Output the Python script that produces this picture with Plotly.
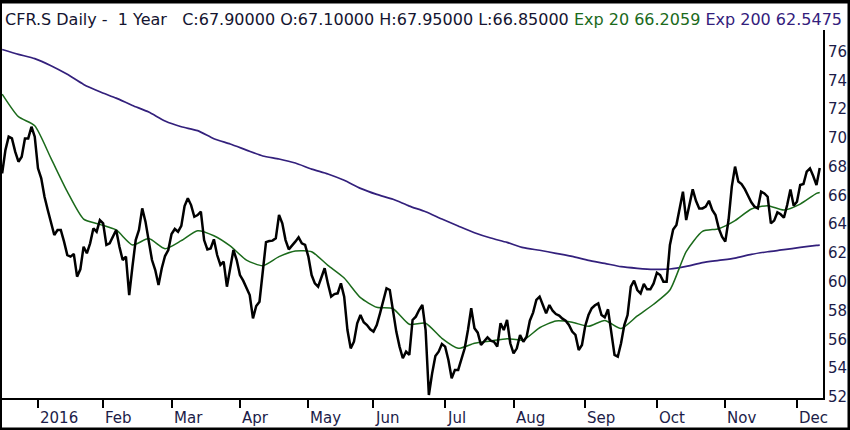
import pandas as pd
import plotly.graph_objects as go

# ---------------- data ----------------
holidays = ["2015-12-24", "2015-12-25", "2015-12-31", "2016-01-01",
            "2016-03-25", "2016-03-28", "2016-05-05", "2016-05-16", "2016-08-01"]
start_date = "2015-12-14"
end_date = "2016-12-12"

closes = [
    67.53, 69.15, 70.08, 69.96, 69.04, 68.34, 68.69, 69.96, 69.96, 70.77, 70.08,
    67.88, 67.19, 65.91, 64.99, 64.06, 63.25, 63.6, 63.6, 62.79, 61.86,
    61.75, 61.93, 60.36, 60.87, 62.44, 61.98, 62.67, 63.71, 63.48, 64.29,
    64.06, 62.56, 62.67, 63.09, 63.6, 62.44, 61.51, 61.75, 59.08, 61.05,
    62.9, 63.6, 65.1, 64.18, 62.9, 61.51, 60.82, 59.78, 60.94, 61.79,
    62.21, 63.32, 63.67, 63.48, 63.88, 65.26, 65.8, 65.33, 64.52, 64.64,
    64.87, 62.9, 62.25, 62.32, 62.95, 61.86, 61.17, 61.4, 59.66, 60.87,
    62.21, 61.51, 60.47, 60.08, 59.62, 59.08, 57.46, 58.32, 58.62, 60.94,
    62.76, 62.83, 62.86, 63.02, 64.64, 64.06, 62.9, 62.25, 62.56, 62.79,
    63.09, 62.67, 62.56, 61.75, 60.47, 59.89, 59.66, 60.24, 60.94, 59.89,
    58.97, 59.15, 59.2, 59.89, 58.97, 56.65, 55.38, 55.84, 57.12, 57.69,
    57.19, 57.0, 56.7, 56.54, 57.0, 57.81, 58.69, 59.55, 59.43, 58.04,
    56.54, 55.5, 54.69, 55.15, 54.92, 57.35, 57.58, 58.04, 58.39, 56.65,
    52.14, 53.64, 54.85, 55.15, 55.68, 55.5, 54.57, 53.3, 53.88, 53.88,
    54.62, 55.38, 56.65, 58.16, 56.77, 56.47, 55.61, 55.84, 56.14, 55.91,
    55.84, 55.5, 57.12, 56.65, 57.35, 55.73, 55.03, 55.38, 56.31, 55.84,
    56.19, 57.3, 57.86, 58.74, 58.97, 58.39, 57.81, 58.39, 57.99, 57.76,
    57.65, 57.44, 57.3, 57.0, 56.54, 56.31, 55.26, 55.61, 56.93, 57.69,
    58.16, 58.37, 58.5, 57.69, 57.53, 58.09, 56.54, 54.92, 54.8, 55.73,
    57.0, 57.69, 59.66, 60.08, 59.43, 59.2, 59.85, 59.48, 59.48, 59.89,
    60.63, 60.47, 60.01, 60.01, 62.56, 63.64, 63.94, 64.99, 66.26, 64.29,
    65.45, 66.42, 65.63, 65.1, 65.1, 65.22, 65.63, 64.99, 64.64, 63.71,
    63.13, 62.79, 64.29, 66.61, 68.0, 66.96, 66.79, 66.44, 65.98, 65.52,
    65.22, 65.1, 66.26, 66.14, 65.91, 64.06, 64.25, 64.82, 64.69, 64.45,
    65.33, 66.42, 65.29, 65.56, 66.72, 66.79, 67.65, 67.88, 67.35, 66.72, 67.9,
]

ema_step = 5  # EMA values read every 5th trading day, plus the last day
ema20 = [
    73.04, 71.47, 70.84, 68.57, 66.26, 64.36, 63.99, 63.6, 62.56, 63.0,
    62.3, 62.86, 63.55, 63.2, 62.49, 61.51, 61.12, 61.75, 62.14, 62.09,
    61.14, 60.26, 58.9, 58.23, 58.13, 57.05, 57.12, 56.07, 55.38, 55.73,
    55.89, 56.05, 55.96, 56.81, 57.28, 57.19, 56.91, 57.32, 56.75, 57.63,
    58.44, 59.43, 62.09, 63.5, 63.69, 64.25, 65.06, 65.29, 64.99, 65.4,
    66.14, 66.2059,
]
ema200 = [
    76.14, 75.8, 75.5, 75.01, 74.41, 73.71, 73.2, 72.76, 72.25, 71.79,
    71.17, 70.77, 70.5, 69.94, 69.57, 69.15, 68.74, 68.53, 68.25, 67.83,
    67.49, 67.05, 66.49, 66.07, 65.73, 65.26, 64.87, 64.36, 63.88, 63.41,
    63.04, 62.74, 62.37, 62.19, 61.98, 61.77, 61.49, 61.28, 61.05, 60.94,
    60.87, 60.89, 61.07, 61.33, 61.49, 61.65, 61.91, 62.09, 62.23, 62.39,
    62.53, 62.5475,
]

last_open, last_high, last_low = 67.10, 67.95, 66.85
symbol = "CFR.S"
y_ticks = list(range(52, 77, 2))
month_names = ["2016", "Feb", "Mar", "Apr", "May", "Jun", "Jul", "Aug",
               "Sep", "Oct", "Nov", "Dec"]

# ---------------- build ----------------
dates = [d for d in pd.bdate_range(start_date, end_date)
         if d.strftime("%Y-%m-%d") not in holidays]
xi = list(range(len(dates)))
ema_x = list(range(0, len(dates), ema_step))
if ema_x[-1] != len(dates) - 1:
    ema_x.append(len(dates) - 1)

month_idx = []
for i, d in enumerate(dates):
    if d.year == 2016 and (i == 0 or dates[i - 1].month != d.month):
        month_idx.append(i)

NAVY = "#1c1c48"
GREEN = "#1b6a1b"
INDIGO = "#33207c"

fig = go.Figure()
fig.add_trace(go.Scatter(x=ema_x, y=ema200, mode="lines", line=dict(color=INDIGO, width=1.7, shape="spline", smoothing=0.6), hoverinfo="skip"))
fig.add_trace(go.Scatter(x=ema_x, y=ema20, mode="lines", line=dict(color=GREEN, width=1.5, shape="spline", smoothing=0.6), hoverinfo="skip"))
fig.add_trace(go.Scatter(x=xi, y=closes, mode="lines", line=dict(color="black", width=2.5), hoverinfo="skip"))

W, H = 850, 430
ml, mr, mt, mb = 2, 27, 30, 32
pw, ph = W - ml - mr, H - mt - mb

def px_x(p):
    return (p - ml) / pw

def px_y(p):
    return (H - mb - p) / ph

header = (f"{symbol} Daily -\u00a0 1 Year\u00a0\u00a0 C:{closes[-1]:.5f} O:{last_open:.5f} "
          f"H:{last_high:.5f} L:{last_low:.5f} "
          f"<span style='color:{GREEN}'>Exp 20 {ema20[-1]:.4f}</span> "
          f"<span style='color:{INDIGO}'>Exp 200 {ema200[-1]:.4f}</span>")

annotations = [dict(text=header, xref="paper", yref="paper", x=px_x(3), y=px_y(20),
                    xanchor="left", yanchor="middle", showarrow=False,
                    font=dict(family="DejaVu Sans", size=16, color="#141430"))]
for i, name in zip(month_idx, month_names):
    annotations.append(dict(text=name, xref="x", yref="paper", x=i, y=px_y(418),
                            xanchor="left", yanchor="middle", xshift=0, showarrow=False,
                            font=dict(family="DejaVu Sans", size=15, color=NAVY)))

frame = []
for (a, b, c, d) in [(0, 850, 0, 3.5), (0, 2, 0, 430), (847.5, 850, 0, 430), (0, 850, 427.5, 430)]:
    frame.append(dict(type="rect", xref="paper", yref="paper",
                      x0=px_x(a), x1=px_x(b), y0=px_y(d), y1=px_y(c),
                      fillcolor="black", line=dict(width=0), layer="above"))

fig.update_layout(
    width=W, height=H,
    margin=dict(l=ml, r=mr, t=mt, b=mb, pad=0),
    paper_bgcolor="white", plot_bgcolor="white",
    showlegend=False,
    annotations=annotations,
    shapes=frame,
    xaxis=dict(range=[-0.05, len(dates) - 1 + 1.0], showgrid=False, zeroline=False,
               showline=True, linecolor="black", linewidth=2,
               tickmode="array", tickvals=month_idx, ticktext=[""] * len(month_idx),
               ticks="outside", ticklen=8, tickwidth=2, tickcolor="black"),
    yaxis=dict(range=[51.93, 77.49], side="right", showgrid=False, zeroline=False,
               showline=True, linecolor="black", linewidth=2, mirror=False,
               tickmode="array", tickvals=y_ticks, ticks="",
               tickfont=dict(family="DejaVu Sans", size=15, color=NAVY)),
)

fig.write_html("out.html", config={"displayModeBar": False},
               post_script="document.body.style.margin='0';document.body.style.overflow='hidden';")
